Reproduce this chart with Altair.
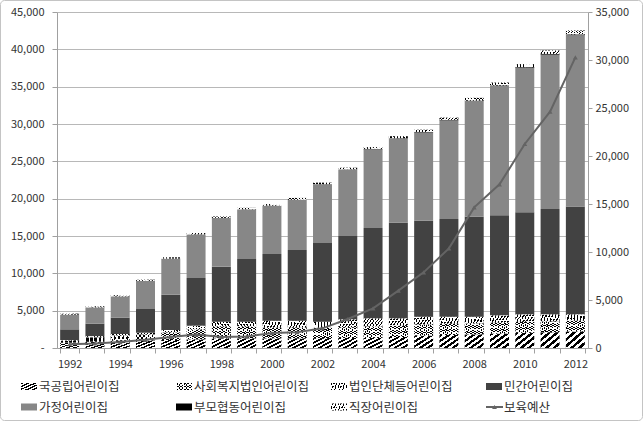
import altair as alt
import pandas as pd

# ---------------- data ----------------
YEARS = list(range(1992, 2013))
CATEGORIES = ["국공립어린이집", "사회복지법인어린이집", "법인단체등어린이집", "민간어린이집",
              "가정어린이집", "부모협동어린이집", "직장어린이집"]
NATIONAL = [720, 837, 983, 1029, 1079, 1158, 1258, 1300, 1295, 1306, 1330, 1349, 1349, 1473,
            1643, 1748, 1826, 1917, 2034, 2116, 2203]
SOCIAL = [300, 600, 700, 800, 1000, 1300, 1600, 1550, 1420, 1430, 1380, 1450, 1540, 1495,
          1534, 1504, 1470, 1470, 1468, 1462, 1444]
CORP = [50, 160, 190, 220, 330, 530, 670, 680, 945, 925, 820, 1040, 1080, 1000,
        1020, 950, 905, 990, 1005, 932, 869]
PRIVATE = [1430, 1663, 2187, 3171, 4731, 6387, 7362, 8390, 8930, 9464, 10530, 11161, 12101, 12812,
           12853, 13078, 13389, 13393, 13663, 14110, 14440]
HOME = [1985, 2194, 2860, 3778, 4845, 5850, 6539, 6664, 6482, 6736, 7888, 8946, 10548, 11279,
        11830, 13214, 15493, 17336, 19361, 20674, 22935]
PARENT = [0, 0, 0, 0, 0, 0, 0, 0, 0, 0, 0, 0, 49, 45, 55, 64, 66, 74, 89, 99, 113]
WORKPLACE = [120, 130, 140, 150, 160, 170, 180, 184, 204, 236, 199, 196, 236, 263,
             298, 298, 350, 370, 401, 449, 523]
BUDGET = [400, 480, 620, 850, 1150, 1400, 1150, 1200, 1550, 1650, 2050, 3020, 4130, 5970,
          7880, 10380, 14650, 17050, 21250, 24620, 30280]
BUDGET_NAME = "보육예산"
SERIES = [NATIONAL, SOCIAL, CORP, PRIVATE, HOME, PARENT, WORKPLACE]

FONT = "Noto Sans CJK KR"
TEXT_C = "#333333"
AXIS_C = "#a0a0a0"
GRID_C = "#b8b8b8"
LINE_C = "#646464"

rows = []
for ci, (cat, vals) in enumerate(zip(CATEGORIES, SERIES)):
    for y, v in zip(YEARS, vals):
        rows.append({"year": y, "cat": cat, "value": v, "order": ci})
df = pd.DataFrame(rows)
df_line = pd.DataFrame({"year": YEARS, "budget": BUDGET})


# ---------------- pattern fills (striped gradients) ----------------
def grad(pattern, n, direction):
    x1, y1, x2, y2 = (0, 0, 1, 1) if direction == "/" else (1, 0, 0, 1)
    stops = []
    for k in range(n):
        acc = 0.0
        for color, frac in pattern:
            s = (k + acc) / n
            e = min((k + acc + frac) / n, 1.0)
            stops.append(alt.GradientStop(color=color, offset=round(s, 4)))
            stops.append(alt.GradientStop(color=color, offset=round(e, 4)))
            acc += frac
    return alt.LinearGradient(gradient="linear", stops=stops, x1=x1, y1=y1, x2=x2, y2=y2)


CLEAR = "rgba(255,255,255,0)"
FILLS = {
    CATEGORIES[0]: [grad([("#000000", 0.5), ("#ffffff", 0.5)], 5, "/")],
    CATEGORIES[1]: [grad([("#000000", 0.6), ("#ffffff", 0.4)], 9, "\\"),
                    grad([("#ffffff", 0.35), (CLEAR, 0.65)], 9, "/")],
    CATEGORIES[2]: [grad([("#000000", 0.5), ("#ffffff", 0.5)], 12, "\\"),
                    grad([("#ffffff", 0.3), (CLEAR, 0.7)], 12, "/")],
    CATEGORIES[3]: ["#424242"],
    CATEGORIES[4]: ["#878787"],
    CATEGORIES[5]: ["#000000"],
    CATEGORIES[6]: [grad([("#000000", 0.5), ("#ffffff", 0.5)], 12, "\\"),
                    grad([("#ffffff", 0.35), (CLEAR, 0.65)], 12, "/")],
}

# ---------------- encodings ----------------
x_enc = alt.X(
    "year:O",
    scale=alt.Scale(paddingInner=0.25, paddingOuter=0.125),
    axis=alt.Axis(title=None, labelAngle=0,
                  labelExpr="toNumber(datum.value) % 2 == 0 ? datum.label : ''",
                  tickBand="extent", tickSize=5, labelPadding=5,
                  domainColor=AXIS_C, tickColor=AXIS_C,
                  labelFont=FONT, labelFontSize=11, labelColor=TEXT_C),
)
y_left = alt.Y(
    "y0:Q",
    scale=alt.Scale(domain=[0, 45000], nice=False),
    axis=alt.Axis(title=None, orient="left", values=list(range(0, 45001, 5000)), format=",.0f",
                  labelExpr="datum.value == 0 ? '-' : datum.label",
                  tickSize=5, labelPadding=8, grid=True, gridColor=GRID_C,
                  domainColor=AXIS_C, tickColor=AXIS_C,
                  labelFont=FONT, labelFontSize=11, labelColor=TEXT_C),
)
y_right = alt.Y(
    "budget:Q",
    scale=alt.Scale(domain=[0, 35000], nice=False),
    axis=alt.Axis(title=None, orient="right", values=list(range(0, 35001, 5000)), format=",.0f",
                  tickSize=4, labelPadding=3, grid=False,
                  domainColor=AXIS_C, tickColor=AXIS_C,
                  labelFont=FONT, labelFontSize=11, labelColor=TEXT_C),
)

base = alt.Chart(df).transform_stack(
    stack="value", groupby=["year"], as_=["y0", "y1"],
    sort=[alt.SortField("order", order="ascending")],
)

bar_layers = []
for cat in CATEGORIES:
    for f in FILLS[cat]:
        bar_layers.append(
            base.transform_filter(alt.datum.cat == cat)
            .mark_bar(fill=f, strokeWidth=0)
            .encode(x=x_enc, y=y_left, y2="y1:Q")
        )
bars = alt.layer(*bar_layers)

line = alt.Chart(df_line).mark_line(color=LINE_C, strokeWidth=2).encode(x=x_enc, y=y_right)
pts = alt.Chart(df_line).mark_point(shape="triangle-up", filled=True, size=24,
                                    color=LINE_C, opacity=1).encode(x=x_enc, y=y_right)
line_group = alt.layer(line, pts)

# ---------------- custom legend ----------------
one = pd.DataFrame({"a": [0]})
LEG_X0, LEG_DX = -36, 155
LEG_Y0, LEG_DY = 374.5, 20.5
SYM_W, SYM_H = 16, 7
legend_layers = []
LEGEND_NAMES = CATEGORIES + [BUDGET_NAME]
for idx, name in enumerate(LEGEND_NAMES):
    col, row = idx % 4, idx // 4
    x0 = LEG_X0 + col * LEG_DX
    yc = LEG_Y0 + row * LEG_DY
    if name in FILLS:
        for f in FILLS[name]:
            legend_layers.append(
                alt.Chart(one).mark_rect(fill=f, strokeWidth=0).encode(
                    x=alt.value(x0), x2=alt.value(x0 + SYM_W),
                    y=alt.value(yc - SYM_H / 2), y2=alt.value(yc + SYM_H / 2))
            )
    else:
        legend_layers.append(
            alt.Chart(one).mark_rule(color=LINE_C, strokeWidth=2).encode(
                x=alt.value(x0), x2=alt.value(x0 + SYM_W + 1), y=alt.value(yc))
        )
        legend_layers.append(
            alt.Chart(one).mark_point(shape="triangle-up", filled=True, size=24,
                                      color=LINE_C, opacity=1).encode(
                x=alt.value(x0 + (SYM_W + 1) / 2), y=alt.value(yc))
        )
    legend_layers.append(
        alt.Chart(one).mark_text(align="left", baseline="middle", font=FONT, fontSize=12.5,
                                 color=TEXT_C, text=name).encode(
            x=alt.value(x0 + SYM_W + 2), y=alt.value(yc + 0.5))
    )

border = alt.Chart(one).mark_rect(fillOpacity=0, stroke="#c4c4c4", strokeWidth=1,
                                  cornerRadius=4).encode(
    x=alt.value(-56.5), x2=alt.value(585.5), y=alt.value(-11.5), y2=alt.value(408.5))

chart = alt.layer(bars, line_group, *legend_layers, border).resolve_scale(
    y="independent"
).properties(
    width=531, height=336,
    autosize=alt.AutoSizeParams(type="none"),
    padding={"left": 57, "top": 12, "right": 55, "bottom": 73},
).configure_view(stroke=None)

chart.save("out.html", embed_options={"renderer": "svg", "actions": False})
